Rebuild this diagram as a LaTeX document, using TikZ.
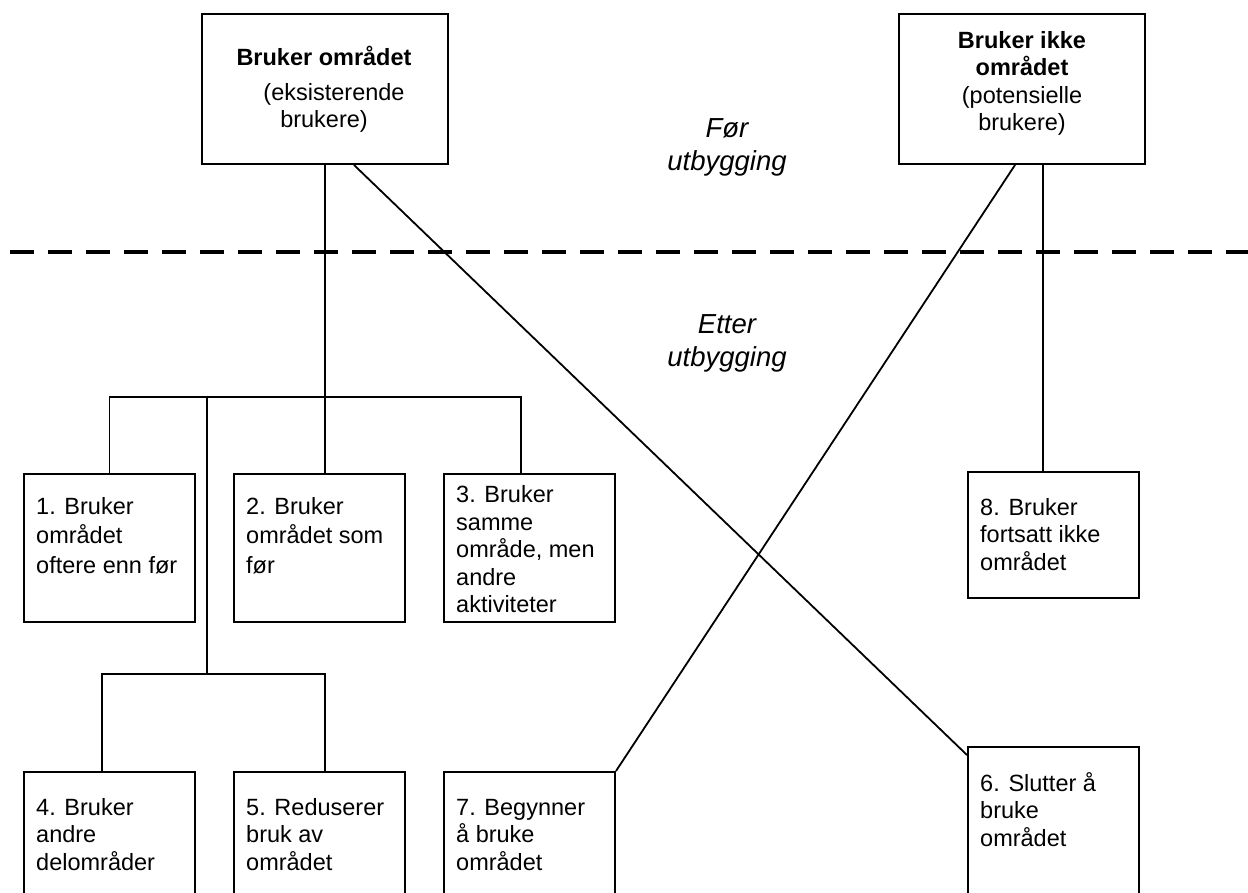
\documentclass[tikz,border=0pt]{standalone}
\usepackage{fontspec}
\setmainfont{Liberation Sans}
\usetikzlibrary{calc}
\begin{document}
\begin{tikzpicture}[x=1pt,y=-1pt,
  box/.style={draw, rectangle, line width=2pt, inner sep=0pt, anchor=north west},
  link/.style={line width=1.8pt},
  btxt/.style={inner sep=0pt, anchor=north west, align=left, font=\fontsize{23.5}{27.5}\selectfont},
  htxt/.style={inner sep=0pt, anchor=north, align=center, font=\fontsize{23.5}{27.5}\selectfont},
  phase/.style={inner sep=0pt, anchor=north, align=center, font=\fontsize{27.5}{33}\selectfont\itshape},
  divider/.style={line width=4pt, dash pattern=on 24pt off 14pt},
]
\clip (0,0) rectangle (1248,892);
\fill[white] (0,0) rectangle (1248,892);

% top boxes
\node[box, minimum width=246pt, minimum height=150pt] (A) at (201,13) {};
\node[box, minimum width=246pt, minimum height=150pt] (B) at (898,13) {};
\node[htxt] (At) at (324,46) {\rule{0pt}{19pt}\textbf{Bruker området}\\[7pt]\hspace*{20pt}(eksisterende\\brukere)};
\node[htxt] (Bt) at (1022,29) {\rule{0pt}{19pt}\textbf{Bruker ikke}\\\textbf{området}\\(potensielle\\brukere)};

% phase labels and divider
\node[phase] (pre) at (727,116) {\rule{0pt}{21pt}Før\\utbygging};
\node[phase] (post) at (727,312) {\rule{0pt}{21pt}Etter\\utbygging};
\coordinate (dl) at (10,252);
\coordinate (dr) at (1262,252);
\draw[divider] (dl) -- (dr);

% middle row
\node[box, minimum width=171pt, minimum height=148pt] (b1) at (23,473) {};
\node[box, minimum width=171pt, minimum height=148pt] (b2) at (233,473) {};
\node[box, minimum width=171pt, minimum height=148pt] (b3) at (443,473) {};
\node[box, minimum width=171pt, minimum height=126pt] (b8) at (967,471) {};
\node[btxt] (t1) at ($(b1.north west)+(13,22)$) {\rule{0pt}{19pt}1. Bruker\\[2pt]området\\[2pt]oftere enn før};
\node[btxt] (t2) at ($(b2.north west)+(13,22)$) {\rule{0pt}{19pt}2. Bruker\\[2pt]området som\\[2pt]før};
\node[btxt] (t3) at ($(b3.north west)+(13,10.5)$) {\rule{0pt}{19pt}3. Bruker\\samme\\område, men\\andre\\aktiviteter};
\node[btxt] (t8) at ($(b8.north west)+(13,25)$) {\rule{0pt}{19pt}8. Bruker\\fortsatt ikke\\området};

% bottom row
\node[box, minimum width=171pt, minimum height=160pt] (b4) at (23,771) {};
\node[box, minimum width=171pt, minimum height=160pt] (b5) at (233,771) {};
\node[box, minimum width=171pt, minimum height=160pt] (b7) at (443,771) {};
\node[box, minimum width=171pt, minimum height=180pt] (b6) at (967,746) {};
\node[btxt] (t4) at ($(b4.north west)+(13,25)$) {\rule{0pt}{19pt}4. Bruker\\andre\\delområder};
\node[btxt] (t5) at ($(b5.north west)+(13,25)$) {\rule{0pt}{19pt}5. Reduserer\\bruk av\\området};
\node[btxt] (t7) at ($(b7.north west)+(13,25)$) {\rule{0pt}{19pt}7. Begynner\\å bruke\\området};
\node[btxt] (t6) at ($(b6.north west)+(13,26)$) {\rule{0pt}{19pt}6. Slutter å\\bruke\\området};

% connectors
\coordinate (bus1) at (0,397);
\coordinate (bus2) at (0,674);
\coordinate (k3) at ($(b3.north west)+(78,0)$);
\coordinate (k45) at (207,397);
\coordinate (k4) at ($(b4.north west)+(79,0)$);
\coordinate (k5) at ($(b5.north west)+(92,0)$);
\coordinate (kA) at ($(A.south)+(29,0)$);
\coordinate (k6) at ($(b6.north west)+(0,9)$);
\coordinate (kB) at ($(B.south)+(-7,0)$);
\coordinate (k8) at ($(B.south)+(21,0)$);

\draw[link] (A.south) -- (A.south |- b2.north);
\draw[link] (b1.north) -- (b1.north |- bus1) -- (k3 |- bus1) -- (k3);
\draw[link] (k45) -- (k45 |- bus2);
\draw[link] (k4) -- (k4 |- bus2) -- (k5 |- bus2) -- (k5);
\draw[link] (kA) -- (k6);
\draw[link] (kB) -- (b7.north east);
\draw[link] (k8) -- (k8 |- b8.north);
\end{tikzpicture}
\end{document}
